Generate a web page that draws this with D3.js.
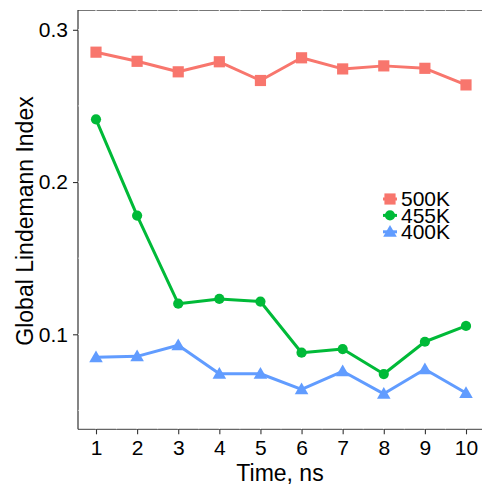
<!DOCTYPE html>
<html><head><meta charset="utf-8">
<script src="https://cdn.jsdelivr.net/npm/d3@7"></script>
<style>body{margin:0;background:#fff}svg{display:block;font-family:"Liberation Sans",Arial,sans-serif}</style>
</head><body>
<svg id="c" width="482" height="486"></svg>
<script>
const times = [1,2,3,4,5,6,7,8,9,10];
const series = ["500K","455K","400K"];
const v500 = [0.2853,0.2793,0.2724,0.2790,0.2667,0.2816,0.2743,0.2763,0.2747,0.2638];
const v455 = [0.2412,0.1780,0.1201,0.1232,0.1215,0.0879,0.0903,0.0739,0.0951,0.1055];
const v400 = [0.0849,0.0855,0.0928,0.0741,0.0741,0.0638,0.0757,0.0609,0.0770,0.0614];
const yTicks = [0.1,0.2,0.3];
const yMinor = [0.05,0.15,0.25];
const xTicks = [1,2,3,4,5,6,7,8,9,10];
const xMinor = [1.5,2.5,3.5,4.5,5.5,6.5,7.5,8.5,9.5];

const colors = {"500K":"#F8766D","455K":"#00BA38","400K":"#619CFF"};
const shapes = {"500K":d3.symbolSquare,"455K":d3.symbolCircle,"400K":d3.symbolTriangle};
const sizes = {"500K":125,"455K":82,"400K":80};
const values = {"500K":v500,"455K":v455,"400K":v400};

const svg = d3.select("#c");
const pL = 78, pR = 482, pT = 10, pB = 429.3;
const x = d3.scaleLinear().domain([1,10]).range([96,466]);
const y = d3.scaleLinear().domain([0.0376,0.313]).range([pB, pT]);

// borders
svg.append("line").attr("x1",pL).attr("x2",pR).attr("y1",pT+0.5).attr("y2",pT+0.5).attr("stroke","#777").attr("stroke-width",1.2);
svg.append("line").attr("x1",pL).attr("x2",pR).attr("y1",pB).attr("y2",pB).attr("stroke","#666").attr("stroke-width",1.2);
svg.append("line").attr("x1",pL).attr("x2",pL).attr("y1",pT).attr("y2",pB).attr("stroke","#333").attr("stroke-width",1.2);

// white grid lines (visible only over borders)
const g = svg.append("g");
xTicks.concat(xMinor).forEach(t=>{
  g.append("line").attr("x1",x(t)).attr("x2",x(t)).attr("y1",pT).attr("y2",pB).attr("stroke","#fff").attr("stroke-width",xMinor.includes(t)?0.6:1);
});
yTicks.concat(yMinor).forEach(t=>{
  g.append("line").attr("x1",pL).attr("x2",pR).attr("y1",y(t)).attr("y2",y(t)).attr("stroke","#fff").attr("stroke-width",yMinor.includes(t)?0.6:1);
});

// axes
const xAxis = svg.append("g").attr("transform",`translate(0,${pB})`)
  .call(d3.axisBottom(x).tickValues(xTicks).tickFormat(d3.format("d")).tickSize(5).tickPadding(6));
const yAxis = svg.append("g").attr("transform",`translate(${pL},0)`)
  .call(d3.axisLeft(y).tickValues(yTicks).tickFormat(d3.format(".1f")).tickSize(5).tickPadding(5));
[xAxis,yAxis].forEach(a=>{
  a.select(".domain").remove();
  a.selectAll(".tick line").attr("stroke","#333").attr("stroke-width",1.1);
  a.selectAll(".tick text").attr("fill","#000").style("font-size","21px").style("font-family","'Liberation Sans',Arial,sans-serif");
});

// data
const line = d3.line().x((d,i)=>x(times[i])).y(d=>y(d));
series.slice().reverse().forEach(s=>{
  svg.append("path").datum(values[s]).attr("d",line).attr("fill","none")
    .attr("stroke",colors[s]).attr("stroke-width",3).attr("stroke-linejoin","round");
  svg.append("g").selectAll("path").data(values[s]).join("path")
    .attr("transform",(d,i)=>`translate(${x(times[i])},${y(d) + (s==="400K"?1:0)})`)
    .attr("d",d3.symbol().type(shapes[s]).size(sizes[s])).attr("fill",colors[s]);
});

// axis titles
svg.append("text").attr("x",280).attr("y",481).attr("text-anchor","middle")
  .style("font-size","23px").text("Time, ns");
svg.append("text").attr("transform","translate(33,221) rotate(-90)").attr("text-anchor","middle")
  .style("font-size","23px").text("Global Lindemann Index");

// legend
const lg = svg.append("g");
series.forEach((s,i)=>{
  const cy = 199 + i*16.4;
  lg.append("line").attr("x1",383).attr("x2",397).attr("y1",cy).attr("y2",cy).attr("stroke",colors[s]).attr("stroke-width",3);
  lg.append("path").attr("transform",`translate(390,${cy + (s==="400K"?1:0)})`)
    .attr("d",d3.symbol().type(shapes[s]).size(sizes[s])).attr("fill",colors[s]);
  lg.append("text").attr("x",401).attr("y",cy+7.4).style("font-size","21px").text(s);
});
</script>
</body></html>
